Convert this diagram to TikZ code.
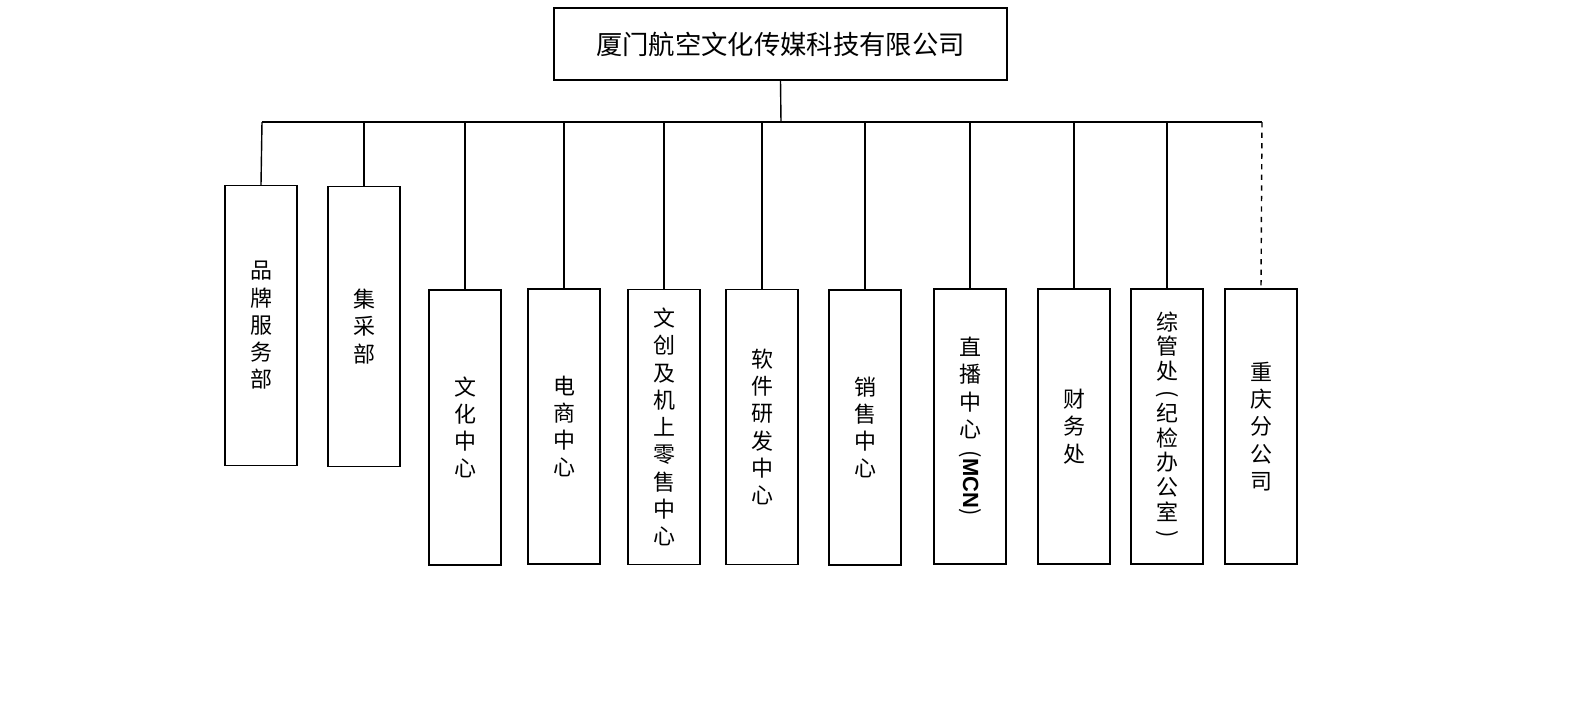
\documentclass[tikz,border=0pt]{standalone}
\usepackage{fontspec}
\setmainfont{Noto Sans CJK SC}
\newfontfamily\latinsf{Liberation Sans}
\usetikzlibrary{positioning}
\newcommand{\vparen}[1]{\rotatebox[origin=c]{-90}{#1}}
\tikzset{
  dept/.style={draw,thick,minimum width=1.44cm,align=center,font=\fontsize{12.5}{15.5}\selectfont,inner sep=0pt},
  tall/.style={dept,minimum height=5.6cm},
  short/.style={dept,minimum height=5.5cm},
  link/.style={thick}
}
\begin{document}
\begin{tikzpicture}[x=0.02cm,y=-0.02cm]
  \useasboundingbox (0,0) rectangle (1587,725);
  % head office
  \node [draw,thick,minimum width=9.06cm,minimum height=1.44cm,font=\fontsize{15}{18}\selectfont] (hq) at (780.5,44) {厦门航空文化传媒科技有限公司};
  \coordinate (bus) at (781,122);
  \coordinate (busL) at (262,122);
  \coordinate (busR) at (1262,122);
  \draw [link] (hq.south) -- (bus);
  \draw [link] (busL) -- (busR);
  % departments
  \node [tall] (brand) at (261,325.5) {品\\牌\\服\\务\\部};
  \node [tall] (buy) at (364,326.5) {集\\采\\部};
  \node [short] (cult) at (465,427.5) {文\\化\\中\\心};
  \node [short] (ecom) at (564,426.5) {电\\商\\中\\心};
  \node [short] (crea) at (664,427) {文\\创\\及\\机\\上\\零\\售\\中\\心};
  \node [short] (soft) at (762,427) {软\\件\\研\\发\\中\\心};
  \node [short] (sale) at (865,427.5) {销\\售\\中\\心};
  \node [short] (live) at (970,426.5) {直\\播\\中\\心\\[6pt]\vparen{({\latinsf\bfseries MCN})}};
  \node [short] (fin) at (1074,426.5) {财\\务\\处};
  \node [short,font=\fontsize{12.5}{14}\selectfont] (gen) at (1167,426.5) {综\\管\\处\\[-2pt]\vparen{(}\\[-2pt]纪\\检\\办\\公\\室\\[-2pt]\vparen{)}};
  \node [short] (cq) at (1261,426.5) {重\\庆\\分\\公\\司};
  % connectors
  \draw [link] (busL) -- (brand.north);
  \draw [link] (buy.north |- bus) -- (buy.north);
  \draw [link] (cult.north |- bus) -- (cult.north);
  \draw [link] (ecom.north |- bus) -- (ecom.north);
  \draw [link] (crea.north |- bus) -- (crea.north);
  \draw [link] (soft.north |- bus) -- (soft.north);
  \draw [link] (sale.north |- bus) -- (sale.north);
  \draw [link] (live.north |- bus) -- (live.north);
  \draw [link] (fin.north |- bus) -- (fin.north);
  \draw [link] (gen.north |- bus) -- (gen.north);
  \draw [link,dashed] (busR) -- (cq.north);
\end{tikzpicture}
\end{document}
